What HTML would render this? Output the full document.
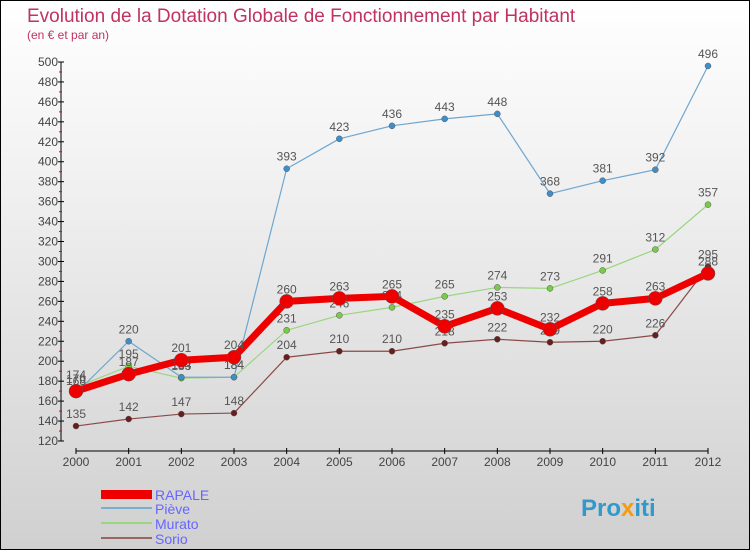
<!DOCTYPE html>
<html><head><meta charset="utf-8"><style>
body{margin:0}
#c{width:748px;height:548px;border:1px solid #000;background:linear-gradient(#fff,#f2f2f2 30%,#d0d0d0);position:relative;font-family:"Liberation Sans",sans-serif}
</style></head><body>
<div id="c">
<svg id="s" width="748" height="548" style="position:absolute;left:0;top:0">
<text x="26" y="21" font-size="19" fill="#c0335f">Evolution de la Dotation Globale de Fonctionnement par Habitant</text>
<text x="26" y="38" font-size="12" fill="#c0335f">(en € et par an)</text>
<g id="axes"></g><g id="series"></g>
<g>
<rect x="100" y="489" width="51" height="9" fill="#e00"/>
<text x="154" y="499" font-size="14" fill="#6666ff">RAPALE</text>
<line x1="100" y1="507" x2="151" y2="507" stroke="#7aaed0" stroke-width="2"/>
<text x="154" y="513" font-size="14" fill="#6666ff">Piève</text>
<line x1="100" y1="522" x2="151" y2="522" stroke="#99d680" stroke-width="2"/>
<text x="154" y="528" font-size="14" fill="#6666ff">Murato</text>
<line x1="100" y1="537" x2="151" y2="537" stroke="#996666" stroke-width="2"/>
<text x="154" y="543" font-size="14" fill="#6666ff">Sorio</text>
</g>
<text x="580" y="515" font-size="24" font-weight="bold" fill="#3399cc">Pro<tspan fill="#f39c12">x</tspan><tspan fill="#3399cc">iti</tspan></text>
</svg>
</div>
<script>
const years=["2000","2001","2002","2003","2004","2005","2006","2007","2008","2009","2010","2011","2012"];
const yTicks=[120,140,160,180,200,220,240,260,280,300,320,340,360,380,400,420,440,460,480,500];
const rapale=[170,187,201,204,260,263,265,235,253,232,258,263,288];
const pieve=[168,220,184,184,393,423,436,443,448,368,381,392,496];
const murato=[174,195,183,184,231,246,254,265,274,273,291,312,357];
const sorio=[135,142,147,148,204,210,210,218,222,219,220,226,295];
const NS="http://www.w3.org/2000/svg";
const X=i=>75+i*(632/12);
const Y=v=>61+(500-v)*(379/380);
function mk(t,a,p){const e=document.createElementNS(NS,t);for(const k in a)e.setAttribute(k,a[k]);p.appendChild(e);return e;}
const ax=document.getElementById('axes');
let l=mk('line',{x1:60,y1:Y(500),x2:60,y2:Y(120),stroke:'#000'},ax);


l=mk('line',{x1:75,y1:450,x2:707,y2:450,stroke:'#000'},ax);


yTicks.forEach(v=>{
 mk('line',{x1:57,y1:Y(v),x2:63,y2:Y(v),stroke:'#000'},ax);
 if(v<500)mk('line',{x1:58,y1:Y(v+10),x2:61,y2:Y(v+10),stroke:'#e00'},ax);
 const t=mk('text',{x:57,y:Y(v)+4,'font-size':12,fill:'#444','text-anchor':'end'},ax);
 t.textContent=v;
 
 
});
years.forEach((y,i)=>{
 mk('line',{x1:X(i),y1:447,x2:X(i),y2:453,stroke:'#000'},ax);
 const t=mk('text',{x:X(i),y:465,'font-size':12,fill:'#444','text-anchor':'middle'},ax);
 t.textContent=y;
 
 
});
const sg=document.getElementById('series');
function draw(data,name,color,w,r,dot){
 const g=mk('g',{},sg);
 
 
 const p=mk('polyline',{points:data.map((v,i)=>X(i)+','+Y(v)).join(' '),fill:'none',stroke:color,'stroke-width':w,'stroke-linejoin':'round'},g);
 
 
 data.forEach((v,i)=>{
  const c=mk('circle',{cx:X(i),cy:Y(v),r:r,fill:dot,stroke:'#555','stroke-width':0.5},g);
  
  
  const t=mk('text',{x:X(i),y:Y(v)-8,'font-size':12,fill:'#555','text-anchor':'middle'},g);
  t.textContent=v;
  
  
 });
}
draw(sorio,'sorio','#8b4a4a',1.2,3,'#6b1d1d');
draw(murato,'murato','#99d680',1.2,3,'#77cc44');
draw(pieve,'pieve','#6fa6cf',1.2,3,'#3d8fcc');
draw(rapale,'rapale','#ee0000',7,7,'#ee0000');
</script>
</body></html>
